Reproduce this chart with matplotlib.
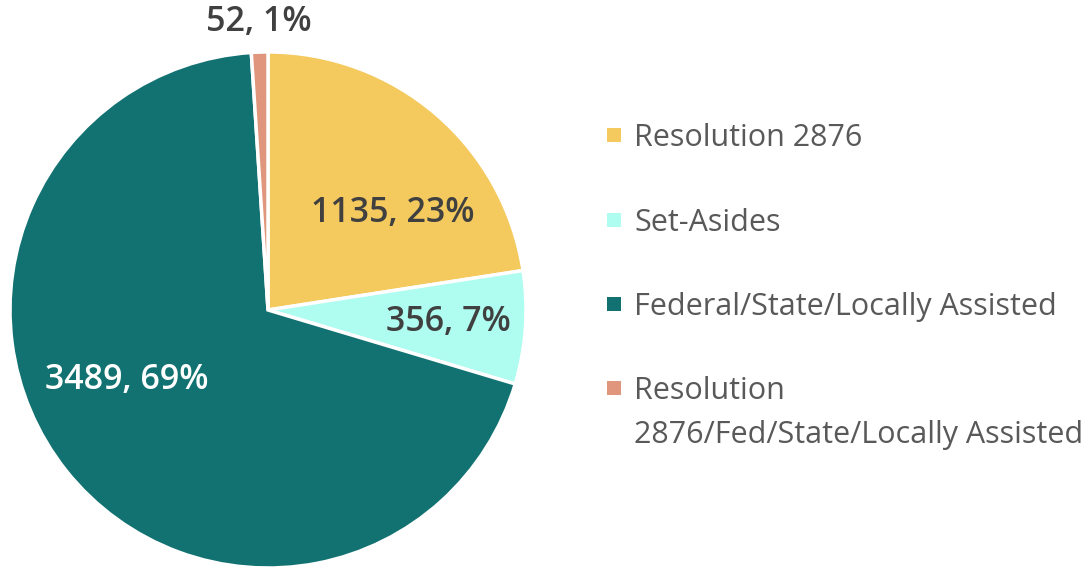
import matplotlib.pyplot as plt
from matplotlib.patches import Rectangle

categories = [
    "Resolution 2876",
    "Set-Asides",
    "Federal/State/Locally Assisted",
    "Resolution\n2876/Fed/State/Locally Assisted",
]
counts = [1135, 356, 3489, 52]
colors = ["#F4C95D", "#AFFCF0", "#127271", "#E0967C"]
label_colors = ["#404040", "#404040", "white", "#404040"]
# label positions in pie data units (radius = 1)
label_pos = [(0.484, 0.376), (0.698, -0.047), (-0.546, -0.271), (-0.035, 1.116)]

plt.rcParams["font.family"] = ["Open Sans", "DejaVu Sans"]

W, H = 1083, 568
fig = plt.figure(figsize=(W / 100, H / 100), dpi=100)
ax = fig.add_axes([0.00923, 0.0, 0.4765, 0.9085])

wedges, _ = ax.pie(
    counts,
    colors=colors,
    startangle=90,
    counterclock=False,
    radius=1,
    wedgeprops=dict(edgecolor="white", linewidth=2.5),
)
ax.set_xlim(-1, 1)
ax.set_ylim(-1, 1)
ax.set_aspect("equal")

total = sum(counts)
for n, c, (x, y) in zip(counts, label_colors, label_pos):
    pct = round(100 * n / total)
    ax.text(x, y, f"{n}, {pct}%", ha="center", va="center",
            fontsize=24.5, fontweight="semibold", color=c, clip_on=False)

# legend drawn by hand so the spacing matches
row_y = [135, 220, 304, 388]
line_gap = 44
for lab, col, yc in zip(categories, colors, row_y):
    fig.patches.append(Rectangle(
        (607 / W, (H - yc - 7) / H), 14 / W, 14 / H,
        facecolor=col, edgecolor="none", transform=fig.transFigure))
    for i, line in enumerate(lab.split("\n")):
        base = yc + 11 + i * line_gap
        fig.text(634 / W, (H - base) / H, line, ha="left", va="baseline",
                 fontsize=22, color="#595959")

fig.savefig("out.png", dpi=100)
